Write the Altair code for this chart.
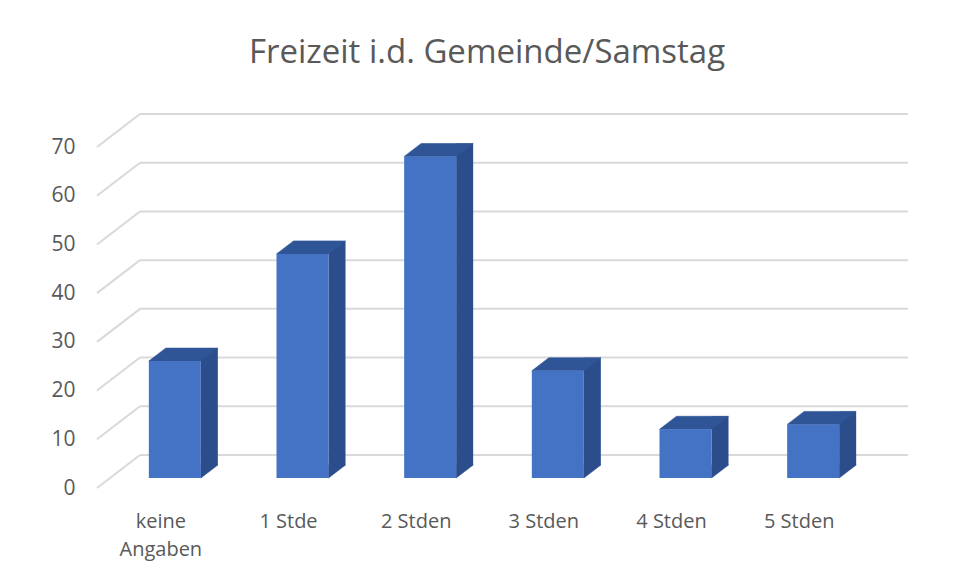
import altair as alt
import pandas as pd

categories = ["keine Angaben", "1 Stde", "2 Stden", "3 Stden", "4 Stden", "5 Stden"]
values = [24, 46, 66, 22, 10, 11]
grid_values = [0, 10, 20, 30, 40, 50, 60, 70]

bars = pd.DataFrame({"cat": categories, "val": values, "zero": [0] * len(values)})
grid = pd.DataFrame({"v": grid_values})

FONT = "Open Sans"
TXT = "#595959"
FRONT = "#4472C4"
TOP = "#2F5597"
SIDE = "#2B4D8B"
GRID = "#D9D9D9"

W, H = 766, 341
PAD_L, PAD_T, PAD_R, PAD_B = 103, 129, 70, 93

x_scale = alt.Scale(domain=categories, paddingInner=0, paddingOuter=0)
y_scale = alt.Scale(domain=[0, 70], nice=False, zero=True)

x_axis = alt.Axis(
    title=None, labelAngle=0, ticks=False, domain=False, grid=False,
    labelOffset=-14, labelPadding=49, labelBaseline="alphabetic",
    labelFontSize=20, labelColor=TXT, labelFont=FONT, labelLineHeight=28,
    labelExpr="datum.value == 'keine Angaben' ? ['keine', 'Angaben'] : datum.value",
)
y_axis = alt.Axis(
    title=None, grid=False, ticks=False, domain=False, values=grid_values,
    labelPadding=36, labelOffset=10, labelBaseline="middle",
    labelFontSize=21, labelColor=TXT, labelFont=FONT,
)

X = alt.X("cat:N", scale=x_scale, sort=categories, axis=x_axis)

# back wall gridlines
back = alt.Chart(grid).mark_rule(color=GRID, strokeWidth=2, yOffset=-23).encode(
    y=alt.Y("v:Q", scale=y_scale, axis=y_axis),
    x=alt.value(29), x2=alt.value(797),
)
# floor/side diagonals
diag = alt.Chart(grid).mark_rule(color=GRID, strokeWidth=2, yOffset=10, y2Offset=-23).encode(
    y=alt.Y("v:Q", scale=y_scale, axis=y_axis), y2=alt.Y2("v:Q"),
    x=alt.value(-14), x2=alt.value(29),
)

side = alt.Chart(bars).mark_bar(color=SIDE, size=17, xOffset=34.5, yOffset=-13, y2Offset=-13).encode(
    x=X,
    y=alt.Y("val:Q", scale=y_scale, axis=y_axis), y2=alt.Y2("zero:Q"),
)
side_tri = alt.Chart(bars).mark_point(
    shape="M26,0 L43,-13 L26,-13 Z", size=4, filled=True, opacity=1,
    color=SIDE, stroke=SIDE, strokeWidth=0.6,
).encode(
    x=X,
    y=alt.Y("zero:Q", scale=y_scale, axis=y_axis),
)
top = alt.Chart(bars).mark_point(
    shape="M-26,0 L26,0 L43,-13 L-9,-13 Z", size=4, filled=True, opacity=1,
    color=TOP, stroke=TOP, strokeWidth=0.6,
).encode(
    x=X,
    y=alt.Y("val:Q", scale=y_scale, axis=y_axis),
)
front = alt.Chart(bars).mark_bar(color=FRONT, size=52).encode(
    x=X,
    y=alt.Y("val:Q", scale=y_scale, axis=y_axis), y2=alt.Y2("zero:Q"),
)

chart = alt.layer(back, diag, side, side_tri, top, front).properties(
    width=W, height=H,
    title=alt.TitleParams(
        "Freizeit i.d. Gemeinde/Samstag", fontSize=33, font=FONT, color=TXT,
        fontWeight="normal", anchor="middle", dx=-7, offset=17, baseline="alphabetic",
    ),
    autosize=alt.AutoSizeParams(type="none"),
    padding={"left": PAD_L, "top": PAD_T, "right": PAD_R, "bottom": PAD_B},
    background="white",
).configure_view(strokeWidth=0, stroke="transparent")

chart.save("out.html", embed_options={"renderer": "svg", "actions": False})
